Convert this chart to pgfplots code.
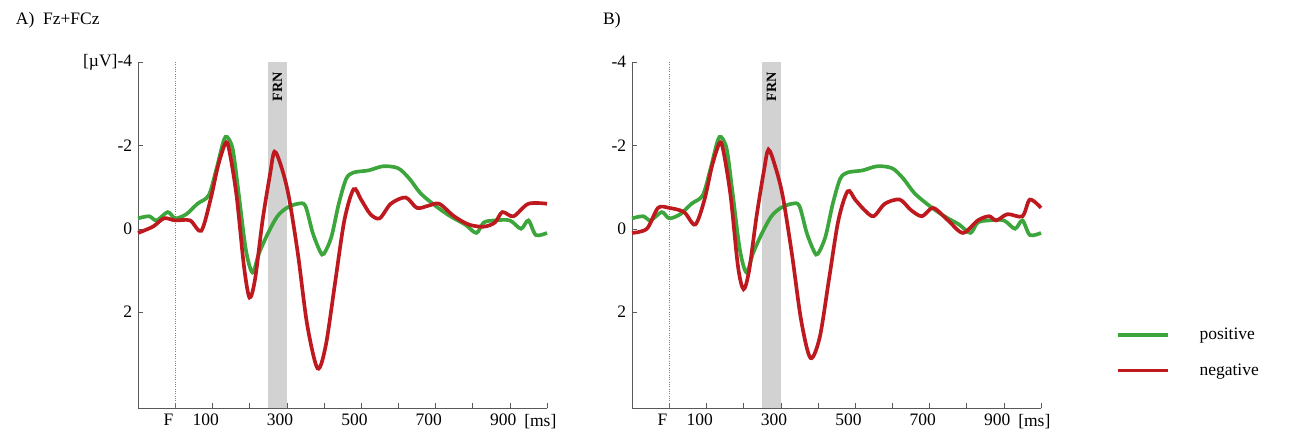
\documentclass[border=0pt]{standalone}
\usepackage{pgfplots}
\pgfplotsset{compat=1.18}
\usepackage{fontspec}
\setmainfont{Liberation Serif}
\definecolor{gpos}{RGB}{60,165,60}
\definecolor{gneg}{RGB}{190,25,30}
\pgfplotsset{erp/.style={
  scale only axis, width=245.4pt, height=207.6pt,
  xmin=-100, xmax=1000, ymin=-4, ymax=4.3, y dir=reverse,
  axis x line=bottom, axis y line=left, axis line style={-, gray!70!black},
  tick align=inside, major tick length=3pt, tick style={gray!70!black},
  xtick={0,100,...,1000}, xticklabels={F,100,,300,,500,,700,,900,[ms]},
  xticklabel style={xshift=-4pt},
  ytick={-4,-2,0,2},
  tick label style={font=\fontsize{10.5}{12}\selectfont},
  /pgf/number format/assume math mode=true,
  clip=false,
  legend style={font=\fontsize{10.5}{12}\selectfont}
}}
\begin{document}
\begin{tikzpicture}
\useasboundingbox (-82.8pt,-19.8pt) rectangle (693.6pt,244.8pt);
\begin{axis}[erp, yticklabels={{[µV]-4},-2,0,2}]
\fill[gray!35] (axis cs:250,-4) rectangle (axis cs:300,4.3);
\draw[densely dotted, gray] (axis cs:0,-4) -- (axis cs:0,4.3);
\node[rotate=90, font=\bfseries\fontsize{8.5}{9}\selectfont] at (axis cs:275,-3.4) {FRN};
\node[anchor=west, font=\fontsize{10.5}{12}\selectfont] at (rel axis cs:-0.313,1.12) {A)\ \ Fz+FCz};
\addplot[gpos, line width=2.2pt, smooth] coordinates {
(-100,-0.25) (-70,-0.3) (-50,-0.2) (-20,-0.4) (0,-0.25) (30,-0.35) (60,-0.6) (90,-0.8) (110,-1.4) (130,-2.1) (140,-2.2) (155,-1.9) (170,-0.9) (190,0.5) (208,1.05) (225,0.6) (250,0.1) (275,-0.3) (300,-0.5) (330,-0.6) (350,-0.55) (370,0.1) (390,0.55) (400,0.6) (420,0.2) (440,-0.6) (460,-1.2) (480,-1.35) (520,-1.4) (560,-1.5) (600,-1.45) (630,-1.2) (660,-0.85) (700,-0.55) (740,-0.3) (780,-0.1) (810,0.1) (830,-0.15) (860,-0.2) (900,-0.2) (930,0.0) (950,-0.2) (970,0.15) (1000,0.1)};
\addplot[gneg, line width=2.2pt, smooth] coordinates {
(-100,0.1) (-60,-0.05) (-30,-0.25) (0,-0.2) (40,-0.2) (70,0.05) (95,-0.7) (115,-1.5) (135,-2.05) (145,-1.9) (165,-0.8) (185,0.9) (200,1.65) (215,1.2) (235,-0.2) (255,-1.3) (267,-1.85) (285,-1.5) (305,-0.8) (330,0.6) (355,2.3) (383,3.35) (405,2.8) (430,1.3) (455,-0.2) (480,-0.95) (500,-0.7) (525,-0.35) (550,-0.25) (580,-0.6) (620,-0.75) (650,-0.5) (680,-0.55) (710,-0.6) (750,-0.3) (790,-0.1) (830,-0.05) (860,-0.15) (880,-0.4) (910,-0.3) (950,-0.6) (1000,-0.6)};
\end{axis}
\begin{axis}[erp, xshift=296.4pt,
  legend style={at={(rel axis cs:1.17,0.16)}, anchor=west, draw=none, fill=none, row sep=9pt, legend cell align=left},
  legend image code/.code={\draw[#1, line width=2.2pt] (0pt,0pt) -- (30pt,0pt); \path (46pt,0pt);}]
\fill[gray!35] (axis cs:250,-4) rectangle (axis cs:300,4.3);
\draw[densely dotted, gray] (axis cs:0,-4) -- (axis cs:0,4.3);
\node[rotate=90, font=\bfseries\fontsize{8.5}{9}\selectfont] at (axis cs:275,-3.4) {FRN};
\node[anchor=west, font=\fontsize{10.5}{12}\selectfont] at (rel axis cs:-0.085,1.12) {B)};
\addplot[gpos, line width=2.2pt, smooth] coordinates {
(-100,-0.25) (-70,-0.3) (-50,-0.2) (-20,-0.4) (0,-0.25) (30,-0.35) (60,-0.6) (90,-0.8) (110,-1.4) (130,-2.1) (140,-2.2) (155,-1.9) (170,-0.9) (190,0.5) (208,1.05) (225,0.6) (250,0.1) (275,-0.3) (300,-0.5) (330,-0.6) (350,-0.55) (370,0.1) (390,0.55) (400,0.6) (420,0.2) (440,-0.6) (460,-1.2) (480,-1.35) (520,-1.4) (560,-1.5) (600,-1.45) (630,-1.2) (660,-0.85) (700,-0.55) (740,-0.3) (780,-0.1) (810,0.1) (830,-0.15) (860,-0.2) (900,-0.2) (930,0.0) (950,-0.2) (970,0.15) (1000,0.1)};
\addlegendentry{positive}
\addplot[gneg, line width=2.2pt, smooth] coordinates {
(-100,0.1) (-60,0.0) (-30,-0.5) (0,-0.5) (40,-0.4) (70,-0.1) (95,-0.7) (115,-1.5) (135,-2.05) (145,-1.9) (165,-0.8) (185,0.9) (200,1.45) (215,1.0) (235,-0.3) (255,-1.4) (267,-1.9) (285,-1.5) (305,-0.8) (330,0.6) (355,2.2) (380,3.1) (405,2.6) (430,1.2) (455,-0.2) (480,-0.9) (500,-0.7) (525,-0.45) (550,-0.3) (580,-0.6) (620,-0.7) (650,-0.45) (680,-0.3) (710,-0.5) (750,-0.2) (790,0.1) (830,-0.2) (860,-0.3) (880,-0.2) (910,-0.35) (950,-0.3) (970,-0.7) (1000,-0.5)};
\addlegendentry{negative}
\end{axis}
\end{tikzpicture}
\end{document}
